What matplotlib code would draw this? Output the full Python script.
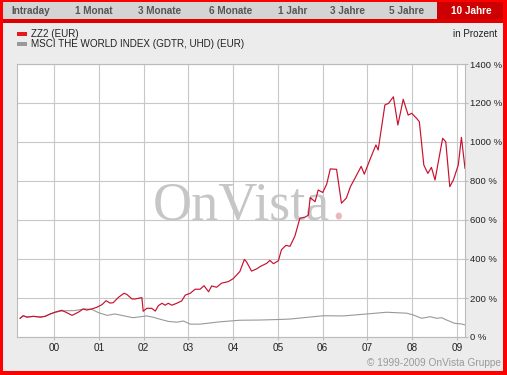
import matplotlib
matplotlib.use('Agg')
import matplotlib.pyplot as plt
from matplotlib.patches import Rectangle

plt.rcParams['font.family'] = ['Liberation Sans', 'DejaVu Sans']

# ZZ2 (EUR), in percent, x as decimal year
red_years = [1999.24, 1999.31, 1999.39, 1999.54, 1999.69, 1999.80, 1999.91, 2000.02,
             2000.17, 2000.28, 2000.40, 2000.54, 2000.65, 2000.73, 2000.84, 2000.95,
             2001.07, 2001.16, 2001.25, 2001.32, 2001.44, 2001.56, 2001.62, 2001.74,
             2001.81, 2001.96, 2001.99, 2002.07, 2002.18, 2002.26, 2002.33, 2002.41,
             2002.48, 2002.55, 2002.63, 2002.74, 2002.85, 2002.93, 2003.04, 2003.15,
             2003.26, 2003.35, 2003.45, 2003.52, 2003.63, 2003.74, 2003.89, 2004.00,
             2004.15, 2004.25, 2004.30, 2004.41, 2004.53, 2004.60, 2004.75, 2004.82,
             2004.90, 2005.01, 2005.08, 2005.18, 2005.27, 2005.38, 2005.49, 2005.61,
             2005.68, 2005.72, 2005.83, 2005.90, 2006.00, 2006.09, 2006.17, 2006.31,
             2006.42, 2006.53, 2006.62, 2006.73, 2006.86, 2006.93, 2007.06, 2007.19,
             2007.24, 2007.39, 2007.47, 2007.50, 2007.58, 2007.68, 2007.80, 2007.91,
             2007.99, 2008.10, 2008.16, 2008.26, 2008.35, 2008.43, 2008.51, 2008.68,
             2008.75, 2008.84, 2008.92, 2009.03, 2009.10, 2009.18]
red_vals = [96, 109, 102, 106, 102, 106, 118, 127,
            137, 125, 111, 127, 144, 138, 144, 152,
            166, 186, 174, 176, 204, 224, 219, 195,
            195, 202, 132, 147, 147, 133, 161, 173,
            163, 173, 163, 173, 185, 215, 224, 245,
            245, 263, 232, 262, 255, 276, 284, 299,
            336, 398, 385, 338, 350, 361, 378, 393,
            376, 391, 448, 470, 465, 518, 609, 615,
            625, 715, 694, 754, 741, 784, 862, 860,
            686, 713, 771, 818, 875, 835, 912, 985,
            959, 1190, 1198, 1207, 1232, 1087, 1219, 1138,
            1147, 1121, 1104, 882, 839, 870, 805, 1019,
            1001, 771, 805, 882, 1024, 865]

# MSCI THE WORLD INDEX (GDTR, UHD) (EUR)
gray_years = [1999.24, 1999.31, 1999.39, 1999.54, 1999.69, 1999.80, 1999.91, 2000.02,
              2000.17, 2000.28, 2000.43, 2000.58, 2000.69, 2000.84, 2000.99, 2001.18,
              2001.36, 2001.55, 2001.76, 2002.07, 2002.22, 2002.37, 2002.55, 2002.74,
              2002.89, 2003.04, 2003.26, 2003.71, 2004.15, 2004.60, 2005.05, 2005.27,
              2005.57, 2006.01, 2006.46, 2006.98, 2007.43, 2007.88, 2008.02, 2008.21,
              2008.40, 2008.55, 2008.66, 2008.77, 2008.95, 2009.10, 2009.18]
gray_vals = [96, 109, 102, 106, 102, 106, 118, 127,
             133, 135, 135, 140, 144, 142, 125, 111,
             118, 109, 99, 108, 101, 91, 80, 76,
             82, 66, 66, 78, 86, 87, 90, 92,
             99, 109, 108, 118, 127, 122, 113, 96,
             104, 96, 99, 87, 70, 67, 62]

year_ticks = list(range(2000, 2010))
year_labels = ['00', '01', '02', '03', '04', '05', '06', '07', '08', '09']
pct_ticks = list(range(0, 1401, 200))
tabs = ['Intraday', '1 Monat', '3 Monate', '6 Monate', '1 Jahr', '3 Jahre', '5 Jahre', '10 Jahre']
tab_x = [31, 94, 160, 231, 293, 347, 407, 471]

W, H = 507, 375
fig = plt.figure(figsize=(W / 100, H / 100), dpi=100, facecolor='#ECECEC')

# background layer in pixel coords
bg = fig.add_axes([0, 0, 1, 1], zorder=0)
bg.set_xlim(0, W)
bg.set_ylim(H, 0)
bg.axis('off')
bg.add_patch(Rectangle((0, 0), W, H, facecolor='#ECECEC', edgecolor='none'))
bg.add_patch(Rectangle((3, 2), 434, 17, facecolor='#D4D4D4', edgecolor='none'))
bg.add_patch(Rectangle((437, 2), 66, 17, facecolor='#CC0000', edgecolor='none'))
bg.add_patch(Rectangle((0, 19), W, 4, facecolor='#E00000', edgecolor='none'))
# outer red border
bg.add_patch(Rectangle((0, 0), 3, H, facecolor='#FF0000', edgecolor='none'))
bg.add_patch(Rectangle((W - 4, 0), 4, H, facecolor='#FF0000', edgecolor='none'))
bg.add_patch(Rectangle((0, H - 4), W, 4, facecolor='#FF0000', edgecolor='none'))
bg.add_patch(Rectangle((0, 0), W, 2, facecolor='#FF0000', edgecolor='none'))

for name, x in zip(tabs, tab_x):
    col = 'white' if name == '10 Jahre' else '#555555'
    bg.text(x, 11, name, ha='center', va='center', fontsize=7.2, fontweight='bold', color=col)

# legend
bg.add_patch(Rectangle((17, 32), 10, 4, facecolor='#E31B1B', edgecolor='none'))
bg.add_patch(Rectangle((17, 42), 10, 4, facecolor='#999999', edgecolor='none'))
bg.text(31, 34, 'ZZ2 (EUR)', ha='left', va='center', fontsize=7.1, color='#222222')
bg.text(31, 44, 'MSCI THE WORLD INDEX (GDTR, UHD) (EUR)', ha='left', va='center',
        fontsize=7.1, color='#222222')
bg.text(497, 34, 'in Prozent', ha='right', va='center', fontsize=7.1, color='#222222')
bg.text(501, 363, '\u00a9 1999-2009 OnVista Gruppe', ha='right', va='center',
        fontsize=7.3, color='#9A9A9A')

# main chart
ax = fig.add_axes([17 / W, 1 - 337 / H, 448 / W, 273 / H], zorder=1)
ax.set_facecolor('white')
ax.text(153, 220, 'OnVista', transform=bg.transData, family='Liberation Serif',
        fontsize=39, color='#C6C6C6', ha='left', va='baseline', zorder=1)
ax.text(331, 220, '.', transform=bg.transData, family='Liberation Serif',
        fontsize=39, color='#E9B9C1', ha='left', va='baseline', zorder=1)

ax.plot(gray_years, gray_vals, color='#999999', lw=0.8, zorder=3)
ax.plot(red_years, red_vals, color='#C8102E', lw=0.85, zorder=4)

ax.set_xlim(1999.17, 2009.18)
ax.set_ylim(0, 1400)
ax.set_xticks(year_ticks)
ax.set_xticklabels(year_labels)
ax.set_yticks(pct_ticks)
ax.set_yticklabels(['%d %%' % v for v in pct_ticks])
ax.yaxis.tick_right()
ax.tick_params(axis='both', length=2, color='#BBBBBB', labelsize=7.2, labelcolor='#222222')
ax.tick_params(axis='y', labelsize=6.8, pad=1.5)
ax.tick_params(axis='x', pad=2.5)
ax.grid(True, color='#C8C8C8', lw=0.8, zorder=0)
ax.set_axisbelow(True)
for s in ax.spines.values():
    s.set_color('#BBBBBB')
    s.set_linewidth(0.8)

fig.savefig('out.png', dpi=100, facecolor=fig.get_facecolor())
